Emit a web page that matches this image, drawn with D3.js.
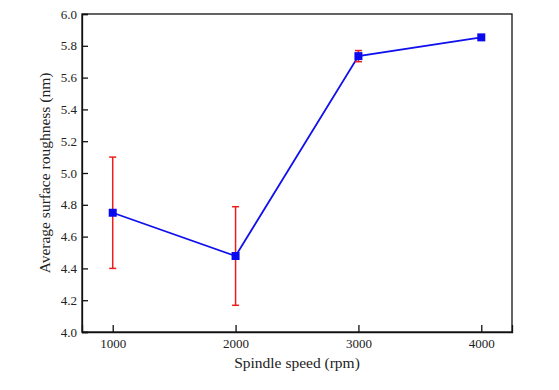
<!DOCTYPE html>
<html><head><meta charset="utf-8">
<script src="https://cdn.jsdelivr.net/npm/d3@7"></script>
<style>body{margin:0;background:#fff}svg{display:block}text{font-family:"Liberation Serif","Times New Roman",serif;fill:#222}</style>
</head><body><svg id="c" width="559" height="390"></svg>
<script>
const speeds = [1000, 2000, 3000, 4000];
const roughness = [4.75, 4.478, 5.735, 5.853];
const errors = [0.35, 0.31, 0.035, 0.015];
const xTicks = [1000, 2000, 3000, 4000];
const yTicks = [4.0, 4.2, 4.4, 4.6, 4.8, 5.0, 5.2, 5.4, 5.6, 5.8, 6.0];

const svg = d3.select("#c");
const L = 82, R = 512, T = 14, B = 332;
const x = d3.scaleLinear().domain([750, 4250]).range([L, R]);
const y = d3.scaleLinear().domain([4.0, 6.0]).range([B, T]);

svg.append("rect").attr("x", L).attr("y", T).attr("width", R - L).attr("height", B - T)
  .attr("fill", "none").attr("stroke", "#111").attr("stroke-width", 1.3);

const xa = svg.append("g").attr("transform", `translate(0,${B})`)
  .call(d3.axisBottom(x).tickValues(xTicks).tickSize(-7).tickPadding(7).tickFormat(d3.format("d")));
const ya = svg.append("g").attr("transform", `translate(${L},0)`)
  .call(d3.axisLeft(y).tickValues(yTicks).tickSize(-6).tickPadding(5).tickFormat(d3.format(".1f")));
[xa, ya].forEach(a => {
  a.attr("font-family", '"Liberation Serif", serif');
  a.select(".domain").attr("stroke", "#111").attr("stroke-width", 1.3);
  a.selectAll(".tick line").attr("stroke", "#111").attr("stroke-width", 1.3);
  a.selectAll("text").attr("font-size", 13).attr("fill", "#222");
});

const data = speeds.map((s, i) => ({s, v: roughness[i], e: errors[i]}));

svg.append("path").datum(data)
  .attr("d", d3.line().x(d => x(d.s)).y(d => y(d.v)))
  .attr("fill", "none").attr("stroke", "#1010ee").attr("stroke-width", 1.8);

const eb = svg.append("g").attr("stroke", "#ee1c1c").attr("stroke-width", 1.5);
data.forEach(d => {
  eb.append("line").attr("x1", x(d.s)).attr("x2", x(d.s)).attr("y1", y(d.v - d.e)).attr("y2", y(d.v + d.e));
  [d.v - d.e, d.v + d.e].forEach(v => {
    eb.append("line").attr("x1", x(d.s) - 3.5).attr("x2", x(d.s) + 3.5).attr("y1", y(v)).attr("y2", y(v));
  });
});

svg.append("g").selectAll("rect").data(data).join("rect")
  .attr("x", d => x(d.s) - 4).attr("y", d => y(d.v) - 4)
  .attr("width", 8).attr("height", 8).attr("fill", "#0a0aee");

svg.append("text").attr("x", 297).attr("y", 368).attr("text-anchor", "middle")
  .attr("font-size", 15.5).text("Spindle speed (rpm)");
svg.append("text").attr("transform", `translate(50,${(T + B) / 2}) rotate(-90)`)
  .attr("text-anchor", "middle").attr("font-size", 15.5).text("Average surface roughness (nm)");
</script></body></html>
